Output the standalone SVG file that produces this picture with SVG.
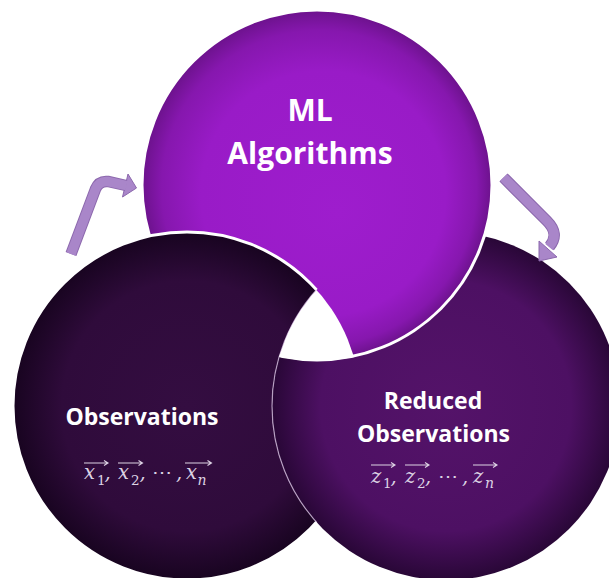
<svg xmlns="http://www.w3.org/2000/svg" width="609" height="578" viewBox="0 0 609 578">
<style>
.lbl{font-family:"Open Sans","Liberation Sans",sans-serif;font-weight:700;fill:#ffffff;text-anchor:middle}
.m{font-family:"DejaVu Serif","Liberation Serif",serif;font-style:italic;fill:#ddd3e4;font-size:19.5px}
.s{font-family:"DejaVu Serif","Liberation Serif",serif;fill:#ddd3e4;font-size:13.5px}
.si{font-family:"DejaVu Serif","Liberation Serif",serif;font-style:italic;fill:#ddd3e4;font-size:14px}
.vec{fill:none;stroke:#ddd3e4;stroke-width:1.1}
.arw-o{fill:none;stroke:#8c68ad;stroke-width:11.5}
.arw-i{fill:none;stroke:#a986c9;stroke-width:9.5}
.arw-h{fill:#a986c9;stroke:#8c68ad;stroke-width:1}
</style>
<defs>
<radialGradient id="gML" cx="50%" cy="50%" r="50%" fx="56%" fy="58%">
<stop offset="0" stop-color="#9e1dcd"/>
<stop offset="0.7" stop-color="#991bc7"/>
<stop offset="0.9" stop-color="#8617ae"/>
<stop offset="1" stop-color="#6c128c"/>
</radialGradient>
<radialGradient id="gL" cx="50%" cy="50%" r="50%">
<stop offset="0" stop-color="#340d41"/>
<stop offset="0.72" stop-color="#2f0b3b"/>
<stop offset="1" stop-color="#180420"/>
</radialGradient>
<radialGradient id="gR" cx="50%" cy="50%" r="50%">
<stop offset="0" stop-color="#541369"/>
<stop offset="0.72" stop-color="#4d1063"/>
<stop offset="1" stop-color="#290737"/>
</radialGradient>
<mask id="notML" maskUnits="userSpaceOnUse" x="0" y="0" width="609" height="578">
<rect x="0" y="0" width="609" height="578" fill="#fff"/>
<circle cx="317" cy="185" r="176.5" fill="#000"/>
</mask>
<mask id="notR" maskUnits="userSpaceOnUse" x="0" y="0" width="609" height="578">
<rect x="0" y="0" width="609" height="578" fill="#fff"/>
<circle cx="446" cy="406" r="174" fill="#000"/>
</mask>
<clipPath id="clipR"><circle cx="446" cy="406" r="174"/></clipPath>
<clipPath id="clipL"><circle cx="187" cy="406" r="174"/></clipPath>
</defs>

<g id="node-ml">
<circle cx="317" cy="185" r="175" fill="url(#gML)" stroke="#ffffff" stroke-width="3"/>
<text class="lbl" x="310" y="121" font-size="30">ML</text>
<text class="lbl" x="310" y="163.5" font-size="30">Algorithms</text>
</g>

<g id="node-reduced">
<circle cx="446" cy="406" r="174" fill="url(#gR)" mask="url(#notML)"/>
<text class="lbl" x="433" y="409" font-size="23">Reduced</text>
<text class="lbl" x="433.5" y="441.5" font-size="23">Observations</text>
<g id="z-vectors">
<text class="m" x="371" y="483">z</text><text class="s" x="383" y="487.5">1</text><text class="m" x="390.5" y="483">,</text>
<text class="m" x="405" y="483">z</text><text class="s" x="417" y="487.5">2</text><text class="m" x="425" y="483">,</text>
<text class="m" x="438" y="483" style="font-style:normal">⋯</text><text class="m" x="462" y="483">,</text>
<text class="m" x="473" y="483">z</text><text class="si" x="485" y="487.5">n</text>
<path class="vec" d="M371 465H395M391 462.5L395 465L391 467.5M405 465H429M425 462.5L429 465L425 467.5M473 465H497M493 462.5L497 465L493 467.5"/>
</g>
</g>

<g id="node-observations">
<circle cx="187" cy="406" r="174" fill="url(#gL)" stroke="#ffffff" stroke-width="3" mask="url(#notR)"/>
<text class="lbl" x="142" y="425" font-size="23">Observations</text>
<g id="x-vectors">
<text class="m" x="84" y="479">x</text><text class="s" x="97" y="485">1</text><text class="m" x="104.5" y="479">,</text>
<text class="m" x="118" y="479">x</text><text class="s" x="131" y="485">2</text><text class="m" x="139.5" y="479">,</text>
<text class="m" x="152" y="479" style="font-style:normal">⋯</text><text class="m" x="176" y="479">,</text>
<text class="m" x="186" y="479">x</text><text class="si" x="197.5" y="485">n</text>
<path class="vec" d="M84 463H108M104 460.5L108 463L104 465.5M118 463H142.5M138.5 460.5L142.5 463L138.5 465.5M185 463H211.5M207.5 460.5L211.5 463L207.5 465.5"/>
</g>
</g>

<g id="center-gap">
<circle cx="446" cy="406" r="174" fill="none" stroke="#cdb6d8" stroke-width="1.2" stroke-opacity="0.8" clip-path="url(#clipL)"/>
<g clip-path="url(#clipL)"><g clip-path="url(#clipR)"><circle cx="317" cy="185" r="176" fill="#ffffff"/></g></g>
</g>

<g id="connectors">
<g id="arrow-obs-to-ml">
<polygon class="arw-h" points="128,174 136.5,188 122.5,197"/>
<path class="arw-o" d="M71 254L95.5 189Q99 180.5 108 181.5L126 185.5"/>
<path class="arw-i" d="M71 254L95.5 189Q99 180.5 108 181.5L126.5 185.6"/>
</g>
<g id="arrow-ml-to-reduced">
<polygon class="arw-h" points="539,241 557,257 539,261"/>
<path class="arw-o" d="M503.5 177.5L547 221Q560 234 549.5 246.5"/>
<path class="arw-i" d="M503.5 177.5L547 221Q560 234 549 247"/>
</g>
</g>
</svg>
